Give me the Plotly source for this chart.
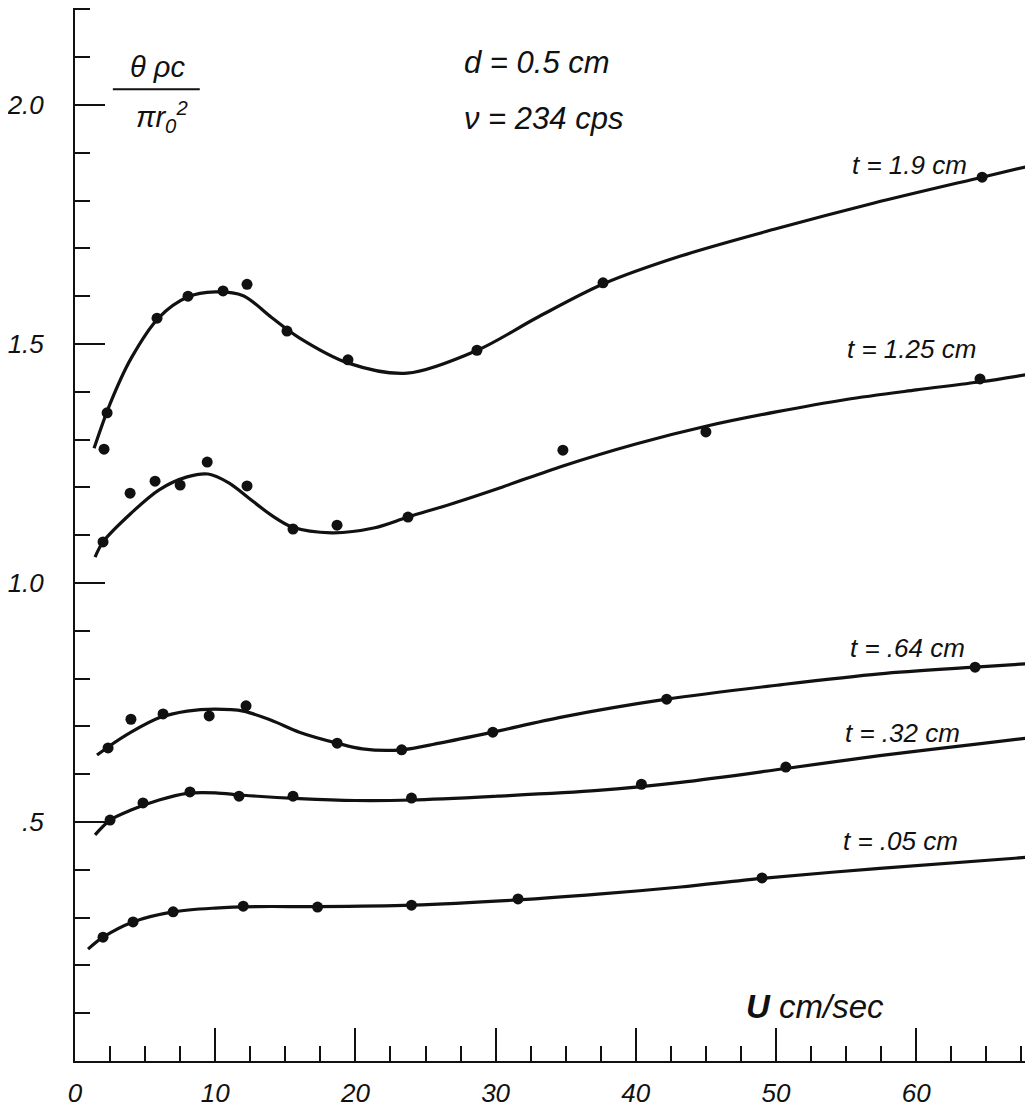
import plotly.graph_objects as go

# ---- measured data points (U in cm/sec, value of theta*rho*c/(pi r0^2)) ----
u_190 = [2.07, 2.29, 5.85, 8.06, 10.56, 12.27, 15.12, 19.47, 28.67, 37.66, 64.7]
v_190 = [1.280, 1.356, 1.554, 1.600, 1.611, 1.625, 1.527, 1.467, 1.487, 1.628, 1.849]

u_125 = [2.0, 3.93, 5.71, 7.5, 9.43, 12.27, 15.55, 18.69, 23.75, 34.8, 45.0, 64.55]
v_125 = [1.086, 1.188, 1.213, 1.205, 1.253, 1.203, 1.113, 1.121, 1.138, 1.278, 1.316, 1.427]

u_064 = [2.36, 3.99, 6.28, 9.57, 12.2, 18.7, 23.3, 29.8, 42.2, 64.2]
v_064 = [0.655, 0.715, 0.726, 0.722, 0.743, 0.665, 0.651, 0.688, 0.757, 0.824]

u_032 = [2.5, 4.85, 8.2, 11.7, 15.55, 24.0, 40.4, 50.7]
v_032 = [0.504, 0.540, 0.563, 0.554, 0.554, 0.550, 0.579, 0.615]

u_005 = [2.0, 4.14, 7.0, 12.0, 17.3, 24.0, 31.6, 49.0]
v_005 = [0.259, 0.291, 0.312, 0.324, 0.322, 0.326, 0.339, 0.383]

# ---- hand-drawn fitted curves ----
cu_190 = [1.36, 2.5, 4, 6, 8, 10, 12, 14, 16, 19.5, 23.7, 28.7, 33, 37.7, 43.2, 50, 57, 64.7, 68.3]
cv_190 = [1.282, 1.375, 1.470, 1.556, 1.598, 1.609, 1.601, 1.556, 1.513, 1.460, 1.439, 1.487,
          1.556, 1.626, 1.684, 1.741, 1.795, 1.849, 1.874]

cu_125 = [1.43, 2.0, 4, 6, 8, 9.5, 11, 12.3, 14, 15.5, 18.3, 21.3, 23.75, 27, 30.5, 34.8, 40,
          45, 50, 55, 60, 64.6, 68.3]
cv_125 = [1.054, 1.086, 1.146, 1.195, 1.222, 1.228, 1.209, 1.180, 1.142, 1.117, 1.105, 1.115,
          1.138, 1.167, 1.201, 1.245, 1.291, 1.328, 1.358, 1.384, 1.404, 1.421, 1.438]

cu_064 = [1.57, 2.36, 4, 6, 8, 10, 12, 14, 16, 18.7, 20.5, 23.3, 26, 29.8, 34.8, 42.2, 50.3,
          57.4, 64.2, 68.3]
cv_064 = [0.640, 0.657, 0.688, 0.718, 0.732, 0.736, 0.732, 0.713, 0.688, 0.665, 0.653, 0.651,
          0.665, 0.688, 0.720, 0.757, 0.787, 0.810, 0.824, 0.832]

cu_032 = [1.43, 2.5, 4, 6, 8, 10, 12, 16, 20, 24.0, 30.1, 37.3, 43.2, 50.7, 57.4, 64.6, 68.3]
cv_032 = [0.473, 0.504, 0.525, 0.546, 0.560, 0.561, 0.556, 0.549, 0.545, 0.546, 0.554, 0.566,
          0.583, 0.612, 0.639, 0.664, 0.677]

cu_005 = [0.93, 2.0, 4.14, 7.0, 10, 13, 17.3, 24.0, 31.6, 37.3, 43.2, 49.0, 57.4, 68.3]
cv_005 = [0.234, 0.259, 0.291, 0.312, 0.320, 0.323, 0.323, 0.326, 0.337, 0.349, 0.364, 0.382,
          0.403, 0.427]

series_labels = ["t = 1.9 cm", "t = 1.25 cm", "t = .64 cm", "t = .32 cm", "t = .05 cm"]

x_tick_vals = [0, 10, 20, 30, 40, 50, 60]
x_tick_text = ["0", "10", "20", "30", "40", "50", "60"]
y_tick_vals = [0.5, 1.0, 1.5, 2.0]
y_tick_text = [".5", "1.0", "1.5", "2.0"]

FONT = "Liberation Sans"
INK = "#111111"

fig = go.Figure()

series = [
    (cu_190, cv_190, u_190, v_190),
    (cu_125, cv_125, u_125, v_125),
    (cu_064, cv_064, u_064, v_064),
    (cu_032, cv_032, u_032, v_032),
    (cu_005, cv_005, u_005, v_005),
]
for (cx, cy, px, py), name in zip(series, series_labels):
    fig.add_trace(go.Scatter(x=cx, y=cy, mode="lines", name=name,
                             line=dict(color=INK, width=3.2, shape="spline", smoothing=0.9),
                             hoverinfo="skip", showlegend=False))
    fig.add_trace(go.Scatter(x=px, y=py, mode="markers", name=name,
                             marker=dict(color=INK, size=11), showlegend=False))

# series labels
label_pos = [(55.3, 1.874), (54.9, 1.49), (55.1, 0.864), (54.8, 0.686), (54.6, 0.460)]
annotations = []
for (lx, ly), txt in zip(label_pos, series_labels):
    annotations.append(dict(x=lx, y=ly, text=txt, xanchor="left", yanchor="middle",
                            showarrow=False,
                            font=dict(family=FONT, size=26, color=INK, style="italic")))

# parameters
annotations.append(dict(x=27.6, y=2.088, text="d = 0.5 cm", xanchor="left", yanchor="middle",
                        showarrow=False,
                        font=dict(family=FONT, size=31, color=INK, style="italic")))
annotations.append(dict(x=27.6, y=1.972, text="ν = 234 cps", xanchor="left", yanchor="middle",
                        showarrow=False,
                        font=dict(family=FONT, size=31, color=INK, style="italic")))

# y-axis quantity as a fraction
annotations.append(dict(x=5.9, y=2.080, text="θ ρc", xanchor="center", yanchor="middle",
                        showarrow=False,
                        font=dict(family=FONT, size=29, color=INK, style="italic")))
annotations.append(dict(x=6.2, y=1.975, text="πr<sub>0</sub><sup>2</sup>", xanchor="center",
                        yanchor="middle", showarrow=False,
                        font=dict(family=FONT, size=29, color=INK, style="italic")))

# x-axis title
annotations.append(dict(x=47.7, y=0.113, text="<b>U</b> cm/sec", xanchor="left", yanchor="middle",
                        showarrow=False,
                        font=dict(family=FONT, size=33, color=INK, style="italic")))

shapes = [
    dict(type="line", xref="x", yref="y", x0=2.7, x1=8.9, y0=2.033, y1=2.033,
         line=dict(color=INK, width=2)),
]

# the page body adds an 8 px margin, so the figure is 8 px smaller each way
fig.update_layout(
    width=1025, height=1108,
    margin=dict(l=67, r=0, t=0, b=55),
    paper_bgcolor="white", plot_bgcolor="white",
    showlegend=False,
    annotations=annotations,
    shapes=shapes,
    xaxis=dict(range=[0, 68.33], showgrid=False, zeroline=False, automargin=False,
               showline=True, linecolor=INK, linewidth=2, mirror=True,
               ticks="inside", ticklen=33, tickwidth=2, tickcolor=INK,
               tickvals=x_tick_vals, ticktext=x_tick_text,
               ticklabelstandoff=8,
               minor=dict(dtick=2.5, tick0=0, ticks="inside", ticklen=15, tickwidth=2,
                          tickcolor=INK, showgrid=False),
               tickfont=dict(family=FONT, size=26, color=INK, style="italic")),
    yaxis=dict(range=[0, 2.203], showgrid=False, zeroline=False, automargin=False,
               showline=True, linecolor=INK, linewidth=2,
               ticks="inside", ticklen=30, tickwidth=2, tickcolor=INK,
               tickvals=y_tick_vals, ticktext=y_tick_text,
               ticklabelstandoff=24,
               minor=dict(dtick=0.1, tick0=0, ticks="inside", ticklen=15, tickwidth=2,
                          tickcolor=INK, showgrid=False),
               tickfont=dict(family=FONT, size=26, color=INK, style="italic")),
)

fig.write_html("out.html")
